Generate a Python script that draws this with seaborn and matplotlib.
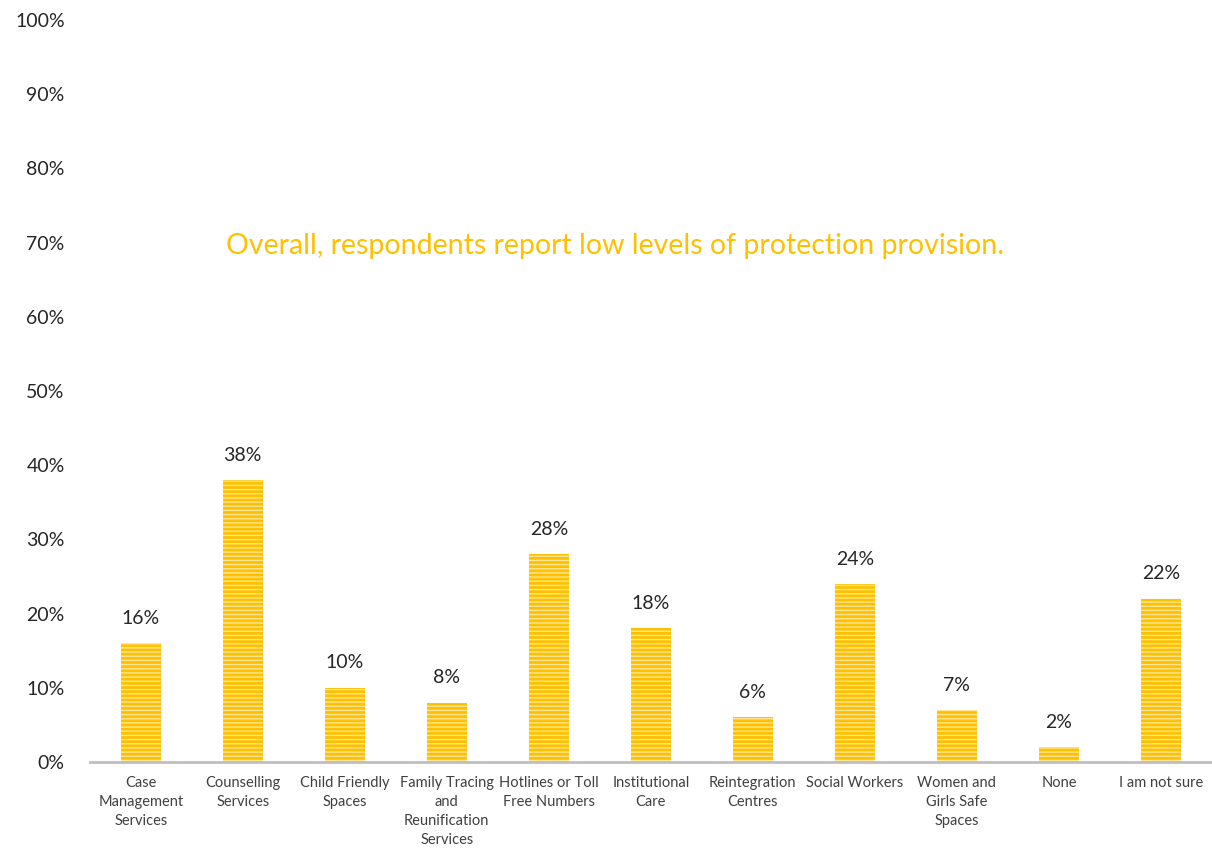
import matplotlib
matplotlib.use("Agg")
import matplotlib.pyplot as plt
import seaborn as sns
import pandas as pd

categories = ["Case\nManagement\nServices", "Counselling\nServices", "Child Friendly\nSpaces",
              "Family Tracing\nand\nReunification\nServices", "Hotlines or Toll\nFree Numbers",
              "Institutional\nCare", "Reintegration\nCentres", "Social Workers",
              "Women and\nGirls Safe\nSpaces", "None", "I am not sure"]
values = [16, 38, 10, 8, 28, 18, 6, 24, 7, 2, 22]
y_ticks = [0, 10, 20, 30, 40, 50, 60, 70, 80, 90, 100]
note = "Overall, respondents report low levels of protection provision."

sns.set_style("white")
plt.rcParams['font.family'] = ['Lato', 'DejaVu Sans']
plt.rcParams['hatch.linewidth'] = 1.0

df = pd.DataFrame({"cat": categories, "val": values})

fig = plt.figure(figsize=(12.12, 8.49), dpi=100)
ax = fig.add_axes([0.074, 0.1025, 0.926, 0.874])

sns.barplot(data=df, x="cat", y="val", color="#FFC000", width=0.39, ax=ax, saturation=1)
for bar in ax.patches:
    bar.set_hatch("----")
    bar.set_edgecolor("#FFE796")
    bar.set_linewidth(0)
    ax.text(bar.get_x() + bar.get_width() / 2, bar.get_height() + 2.2,
            f"{bar.get_height():.0f}%", ha="center", va="bottom", fontsize=14, color="#262626")

ax.set_xlim(-0.5, len(categories) - 0.5)
ax.set_ylim(0, 100)
ax.set_yticks(y_ticks)
ax.set_yticklabels([f"{t}%" for t in y_ticks], fontsize=14, color="#262626")
ax.tick_params(axis="y", length=0, pad=18)
ax.tick_params(axis="x", length=0, pad=10, labelsize=10.5, labelcolor="#404040")
for lbl in ax.get_xticklabels():
    lbl.set_linespacing(1.45)
ax.set_xlabel("")
ax.set_ylabel("")
for s in ["top", "right", "left"]:
    ax.spines[s].set_visible(False)
ax.spines["bottom"].set_color("#BFBFBF")
ax.spines["bottom"].set_linewidth(2)

ax.text(4.65, 69.5, note, ha="center", va="center", fontsize=20.5, color="#FFC000")

fig.savefig("out.png", dpi=100)
